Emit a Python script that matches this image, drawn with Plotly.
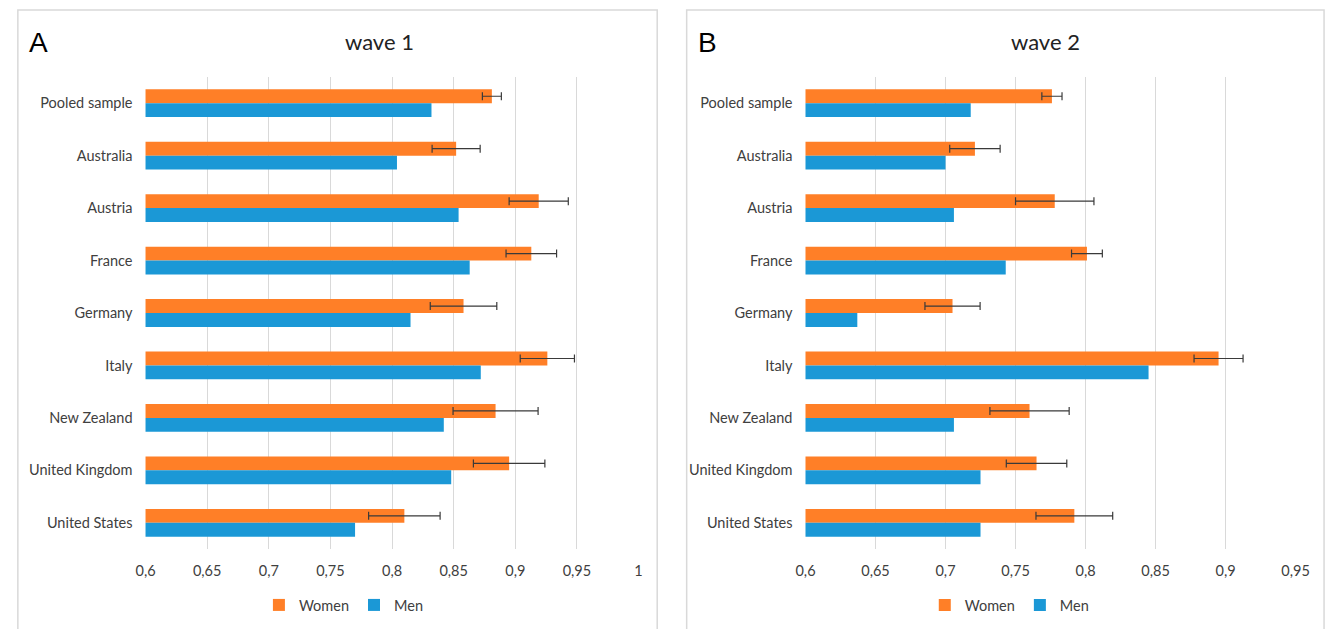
import plotly.graph_objects as go

W, H = 1341, 629

categories = ["Pooled sample", "Australia", "Austria", "France", "Germany",
              "Italy", "New Zealand", "United Kingdom", "United States"]

# wave 1
w1_women = [0.881, 0.852, 0.919, 0.913, 0.858, 0.926, 0.884, 0.895, 0.810]
w1_women_err = [0.0077, 0.0195, 0.024, 0.0205, 0.027, 0.022, 0.0345, 0.029, 0.029]
w1_men = [0.832, 0.804, 0.854, 0.863, 0.815, 0.872, 0.842, 0.848, 0.770]

# wave 2
w2_women = [0.776, 0.721, 0.778, 0.801, 0.705, 0.895, 0.760, 0.765, 0.792]
w2_women_err = [0.0072, 0.018, 0.028, 0.011, 0.0197, 0.0175, 0.0283, 0.0216, 0.0274]
w2_men = [0.718, 0.700, 0.706, 0.743, 0.637, 0.845, 0.706, 0.725, 0.725]

x1_ticks = [0.6, 0.65, 0.7, 0.75, 0.8, 0.85, 0.9, 0.95, 1.0]
x2_ticks = [0.6, 0.65, 0.7, 0.75, 0.8, 0.85, 0.9, 0.95]

ORANGE = "#FF7F27"
BLUE = "#1B98D6"
GRID = "#D9D9D9"
TXT = "#404040"
FONT = "Lato"

fig = go.Figure()

def add_panel(women, err, men, xa, ya, leg):
    fig.add_trace(go.Bar(
        y=categories, x=women, orientation="h", name="Women",
        marker=dict(color=ORANGE, line=dict(width=0)),
        error_x=dict(type="data", array=err, visible=True, color="#3a3a3a",
                     thickness=1.2, width=4),
        xaxis=xa, yaxis=ya, legend=leg))
    fig.add_trace(go.Bar(
        y=categories, x=men, orientation="h", name="Men",
        marker=dict(color=BLUE, line=dict(width=0)),
        xaxis=xa, yaxis=ya, legend=leg))

add_panel(w1_women, w1_women_err, w1_men, "x", "y", "legend")
add_panel(w2_women, w2_women_err, w2_men, "x2", "y2", "legend2")

ydom = [1 - 549 / H, 1 - 77 / H]
xaxis_common = dict(showgrid=True, gridcolor=GRID, gridwidth=1, zeroline=False,
                    showline=False, ticks="", tickfont=dict(family=FONT, size=14.5, color=TXT),
                    ticklabelstandoff=11, fixedrange=True)
yaxis_common = dict(showgrid=False, zeroline=False, showline=False, ticks="",
                    autorange="reversed", type="category",
                    tickfont=dict(family=FONT, size=14.5, color=TXT),
                    ticklabelstandoff=12, domain=ydom, fixedrange=True)

legend_common = dict(orientation="h", y=1 - 605 / H, yanchor="middle",
                     xanchor="center", font=dict(family=FONT, size=14.5, color=TXT),
                     itemwidth=30, bgcolor="rgba(0,0,0,0)")

fig.update_layout(
    width=W, height=H,
    margin=dict(l=0, r=0, t=0, b=0),
    paper_bgcolor="white", plot_bgcolor="white",
    separators=", ",
    barmode="group", bargap=0.47, bargroupgap=0,
    xaxis=dict(domain=[138 / W, 640 / W], range=[0.6, 1.0], tickvals=x1_ticks,
               anchor="y", **xaxis_common),
    yaxis=dict(anchor="x", **yaxis_common),
    xaxis2=dict(domain=[810 / W, 1309 / W], range=[0.6, 0.95], tickvals=x2_ticks,
                anchor="y2", **xaxis_common),
    yaxis2=dict(anchor="x2", **yaxis_common),
    legend=dict(x=340 / W, **legend_common),
    legend2=dict(x=1018 / W, **legend_common),
    showlegend=True,
)

# panel frames
for x0, x1 in [(8, 659), (689, 1338)]:
    fig.add_shape(type="rect", xref="paper", yref="paper",
                  x0=x0 / W, x1=x1 / W, y0=-0.02, y1=1 - 10 / H,
                  line=dict(color=GRID, width=1.5), fillcolor="rgba(0,0,0,0)",
                  layer="below")

# panel letters and titles
for txt, px in [("A", 17), ("B", 699)]:
    fig.add_annotation(text=txt, xref="paper", yref="paper", x=px / W, y=1 - 42 / H,
                       xanchor="left", yanchor="middle", showarrow=False,
                       font=dict(family="Liberation Sans", size=28, color="black"))
for txt, px in [("wave 1", 376), ("wave 2", 1054)]:
    fig.add_annotation(text=txt, xref="paper", yref="paper", x=px / W, y=1 - 41 / H,
                       xanchor="center", yanchor="middle", showarrow=False,
                       font=dict(family=FONT, size=22, color="#222222"))

fig.write_html(
    "out.html",
    config={"displayModeBar": False},
    post_script="document.body.style.margin='0';document.body.style.overflow='hidden';",
)
